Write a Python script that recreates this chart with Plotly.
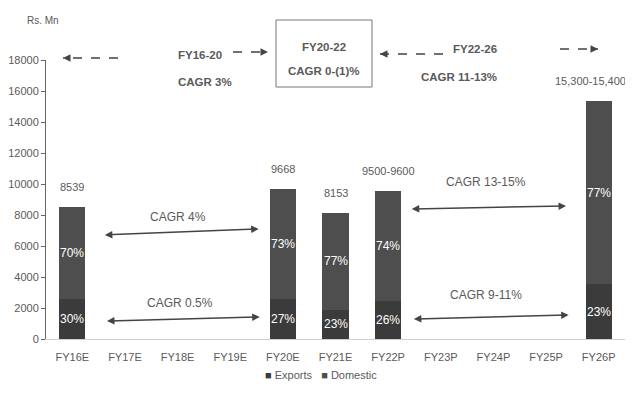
import plotly.graph_objects as go

categories = ["FY16E", "FY17E", "FY18E", "FY19E", "FY20E", "FY21E",
              "FY22P", "FY23P", "FY24P", "FY25P", "FY26P"]
totals = [8539, None, None, None, 9668, 8153, 9550, None, None, None, 15350]
export_share = [30, None, None, None, 27, 23, 26, None, None, None, 23]
total_labels = ["8539", "", "", "", "9668", "8153", "9500-9600", "", "", "", "15,300-15,400"]

exports = [t * s / 100 if t else None for t, s in zip(totals, export_share)]
domestic = [t - e if t else None for t, e in zip(totals, exports)]

FONT = "Liberation Sans Narrow, Arial Narrow, Liberation Sans, Arial"
GREY = "#5a5a5a"
EXP_COL = "#3b3b3b"
DOM_COL = "#4e4e4e"

fig = go.Figure()
fig.add_trace(go.Bar(x=categories, y=exports, name="Exports", width=0.5,
                     marker=dict(color=EXP_COL, line=dict(width=0))))
fig.add_trace(go.Bar(x=categories, y=domestic, name="Domestic", width=0.5,
                     marker=dict(color=DOM_COL, line=dict(width=0))))

annotations = []
# totals above bars, shares inside bars
for i, (t, lab) in enumerate(zip(totals, total_labels)):
    if not t:
        continue
    last = i == len(totals) - 1
    annotations.append(dict(x=i, y=t, text=lab, showarrow=False, yanchor="bottom",
                            yshift=12, xshift=-8 if last else 0,
                            font=dict(size=11, color=GREY, family=FONT)))
    s = export_share[i]
    annotations.append(dict(x=i, y=exports[i] / 2, text=f"{s}%", showarrow=False,
                            font=dict(size=12, color="white", family=FONT)))
    annotations.append(dict(x=i, y=exports[i] + domestic[i] / 2, text=f"{100 - s}%",
                            showarrow=False, font=dict(size=12, color="white", family=FONT)))

# CAGR double arrows between bars
cagr = [
    # text, x0, y0, x1, y1, label x, label y
    ("CAGR 4%", 0.59, 6710, 3.54, 7100, 2.0, 7870),
    ("CAGR 0.5%", 0.63, 1160, 3.56, 1420, 2.05, 2320),
    ("CAGR 13-15%", 6.42, 8390, 9.38, 8580, 7.86, 10130),
    ("CAGR 9-11%", 6.46, 1290, 9.43, 1550, 7.86, 2840),
]
for txt, x0, y0, x1, y1, lx, ly in cagr:
    annotations.append(dict(x=x1, y=y1, ax=x0, ay=y0, xref="x", yref="y", axref="x", ayref="y",
                            text="", showarrow=True, arrowhead=2, startarrowhead=2,
                            arrowside="end+start", arrowsize=1, arrowwidth=1.5, arrowcolor="#444"))
    annotations.append(dict(x=lx, y=ly, text=txt, showarrow=False,
                            font=dict(size=12, color=GREY, family=FONT)))


# page pixel -> paper coords (plot area spans x 46..625, y 60..339 on the page)
def px(xp):
    return (xp - 46) / 579


def py(yp):
    return (339 - yp) / 279


headers = [
    ("<b>FY16-20</b>", 176, 47), ("<b>CAGR 3%</b>", 176, 74),
    ("<b>FY20-22</b>", 324, 39), ("<b>CAGR 0-(1)%</b>", 324, 63),
    ("<b>FY22-26</b>", 499, 41), ("<b>CAGR 11-13%</b>", 499, 69),
]
for txt, x, y in headers:
    annotations.append(dict(x=px(x), y=py(y), xref="paper", yref="paper", text=txt,
                            showarrow=False, font=dict(size=11.5, color=GREY, family=FONT)))

annotations.append(dict(x=px(25), y=py(13), xref="paper", yref="paper", text="Rs. Mn",
                        showarrow=False, font=dict(size=10, color=GREY, family=FONT)))

# legend drawn as text so the squares sit tight to the labels
legend_txt = (f"<span style='color:{EXP_COL}'>■</span> Exports   "
              f"<span style='color:{DOM_COL}'>■</span> Domestic")
annotations.append(dict(x=px(321), y=py(383), xref="paper", yref="paper", text=legend_txt,
                        showarrow=False, font=dict(size=11, color=GREY, family=FONT)))

shapes = [dict(type="rect", xref="paper", yref="paper", x0=px(276), x1=px(372), y0=py(87), y1=py(20),
               line=dict(color="#777", width=1))]

# dashed arrows: (start, end) in page pixels
dashed = [((118, 58), (63, 58)), ((233, 52), (268, 52)),
          ((443, 54), (380, 54)), ((560, 49), (598, 49))]
for (sx, sy), (ex, ey) in dashed:
    shapes.append(dict(type="line", xref="paper", yref="paper", x0=px(sx), y0=py(sy),
                       x1=px(ex), y1=py(ey), line=dict(color="#444", width=1.5, dash="dash")))
    d = 1 if ex > sx else -1
    annotations.append(dict(x=px(ex), y=py(ey), xref="paper", yref="paper", ax=-6 * d, ay=0,
                            text="", showarrow=True, arrowhead=2, arrowsize=1,
                            arrowwidth=1.5, arrowcolor="#444"))

# the page body has an 8px margin, so the figure is sized to fit inside the window
fig.update_layout(
    barmode="stack",
    width=617, height=389,
    margin=dict(l=38, r=0, t=52, b=58),
    plot_bgcolor="white", paper_bgcolor="white",
    font=dict(family=FONT, color=GREY, size=11),
    showlegend=False,
    xaxis=dict(range=[-0.5, 10.5], showline=True, linecolor="#d0d0d0", linewidth=1,
               ticks="", ticklabelstandoff=8, tickfont=dict(size=11, color=GREY)),
    yaxis=dict(range=[0, 18000], dtick=2000, tickformat="d", showgrid=False, zeroline=False,
               showline=True, linecolor="#666", linewidth=1, ticks="outside", ticklen=4,
               tickcolor="#666", tickfont=dict(size=11, color=GREY)),
    annotations=annotations,
    shapes=shapes,
)

fig.write_html("out.html")
